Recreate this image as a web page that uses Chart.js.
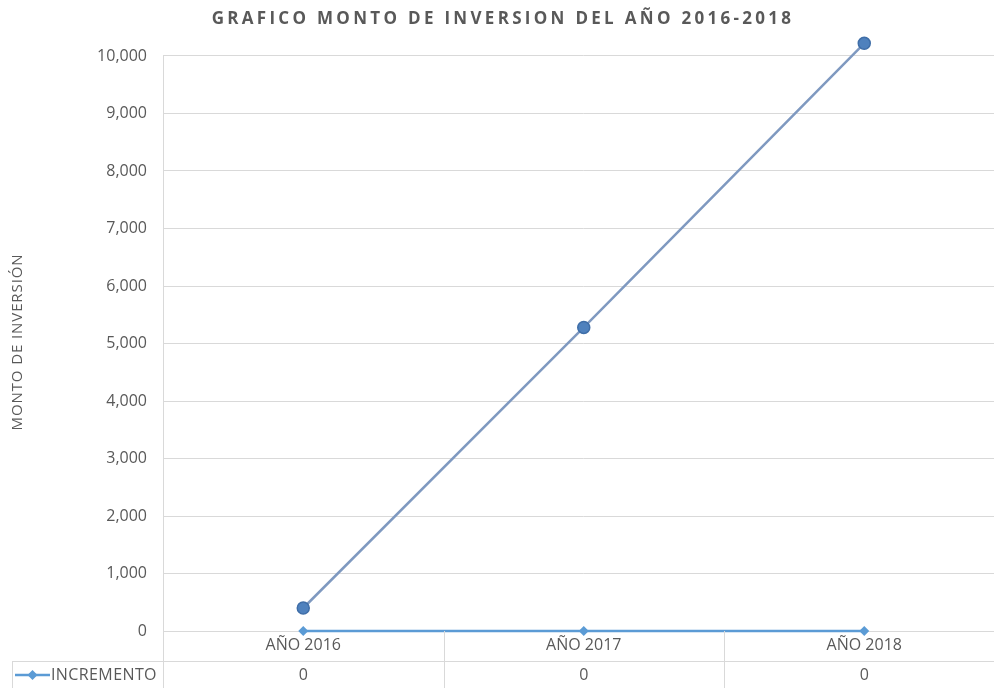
<!DOCTYPE html>
<html>
<head>
<meta charset="utf-8">
<script src="https://cdn.jsdelivr.net/npm/chart.js@4.4.0/dist/chart.umd.min.js"></script>
<style>
  html, body { margin: 0; padding: 0; background: #fff; overflow: hidden; }
  #wrap { width: 1012px; height: 688px; }
</style>
</head>
<body>
<div id="wrap"><canvas id="chart" width="1012" height="688"></canvas></div>
<script>
// datos del grafico
const years = ['AÑO 2016', 'AÑO 2017', 'AÑO 2018'];
const montoInversion = [400, 5280, 10220];
const incremento = [0, 0, 0];
const yTicks = [0, 1000, 2000, 3000, 4000, 5000, 6000, 7000, 8000, 9000, 10000];
const chartTitle = 'GRAFICO MONTO DE INVERSION DEL AÑO 2016-2018';
const yTitle = 'MONTO DE INVERSIÓN';

const textColor = '#595959';
const gridColor = '#d9d9d9';
const fontFam = "'Open Sans', 'Liberation Sans', sans-serif";

// titulos con espaciado de letras
const titles = {
  id: 'titles',
  afterDraw(chart) {
    const ctx = chart.ctx;
    ctx.save();
    ctx.fillStyle = textColor;
    ctx.textAlign = 'center';
    ctx.textBaseline = 'middle';
    ctx.font = 'bold 17px ' + fontFam;
    ctx.letterSpacing = '3.3px';
    ctx.fillText(chartTitle, 503, 19);
    ctx.font = '15px ' + fontFam;
    ctx.letterSpacing = '0.9px';
    ctx.translate(18, 342);
    ctx.rotate(-Math.PI / 2);
    ctx.fillText(yTitle, 0, 0);
    ctx.restore();
  }
};

// tabla de datos debajo del eje x (como en Excel)
const dataTable = {
  id: 'dataTable',
  beforeDatasetsDraw(chart) {
    // linea del eje y, desde el ultimo tick hacia abajo
    const ctx = chart.ctx;
    const y = chart.scales.y;
    const left = Math.round(chart.chartArea.left) + 0.5;
    ctx.save();
    ctx.strokeStyle = gridColor;
    ctx.lineWidth = 1;
    ctx.beginPath();
    ctx.moveTo(left, y.getPixelForValue(yTicks[yTicks.length - 1]));
    ctx.lineTo(left, chart.chartArea.bottom);
    ctx.stroke();
    ctx.restore();
  },
  afterDraw(chart) {
    const ctx = chart.ctx;
    const x = chart.scales.x;
    const area = chart.chartArea;
    const top = area.bottom;
    const rowY = 661;
    const bottom = chart.height;
    const step = x.getPixelForValue(1) - x.getPixelForValue(0);
    ctx.save();
    ctx.strokeStyle = gridColor;
    ctx.lineWidth = 1;
    // lineas verticales entre categorias
    for (let i = 0; i < years.length; i++) {
      const xp = Math.round(x.getPixelForValue(i) - step / 2) + 0.5;
      ctx.beginPath();
      ctx.moveTo(xp, top);
      ctx.lineTo(xp, bottom);
      ctx.stroke();
    }
    // linea horizontal de la fila
    ctx.beginPath();
    ctx.moveTo(12, rowY + 0.5);
    ctx.lineTo(chart.width, rowY + 0.5);
    ctx.stroke();
    ctx.beginPath();
    ctx.moveTo(12.5, rowY);
    ctx.lineTo(12.5, bottom);
    ctx.stroke();

    // leyenda de la serie
    const ly = 675;
    ctx.strokeStyle = '#5b9bd5';
    ctx.lineWidth = 2.5;
    ctx.beginPath();
    ctx.moveTo(15, ly);
    ctx.lineTo(50, ly);
    ctx.stroke();
    ctx.fillStyle = '#5b9bd5';
    ctx.beginPath();
    ctx.moveTo(32.5, ly - 5);
    ctx.lineTo(37.5, ly);
    ctx.lineTo(32.5, ly + 5);
    ctx.lineTo(27.5, ly);
    ctx.closePath();
    ctx.fill();

    ctx.fillStyle = textColor;
    ctx.font = '16px ' + fontFam;
    ctx.textBaseline = 'middle';
    ctx.textAlign = 'left';
    ctx.letterSpacing = '0.4px';
    ctx.fillText('INCREMENTO', 51, ly);
    ctx.letterSpacing = '0px';
    ctx.textAlign = 'center';
    incremento.forEach((v, i) => {
      ctx.fillText(String(v), x.getPixelForValue(i), ly);
    });
    ctx.restore();
  }
};

const config = {
  type: 'line',
  data: {
    labels: years,
    datasets: [
      {
        label: 'INCREMENTO',
        data: incremento,
        borderColor: '#5b9bd5',
        backgroundColor: '#5b9bd5',
        borderWidth: 2.5,
        pointStyle: 'rectRot',
        pointRadius: 5,
        pointBorderWidth: 0,
        clip: false,
        order: 2
      },
      {
        label: 'MONTO DE INVERSIÓN',
        data: montoInversion,
        borderColor: '#7f99c0',
        backgroundColor: '#4f81bd',
        pointBorderColor: '#3f6ea8',
        borderWidth: 2.5,
        pointRadius: 6,
        pointBorderWidth: 1.5,
        clip: false,
        order: 1
      }
    ]
  },
  options: {
    responsive: false,
    animation: false,
    // el area llega hasta 10,400 para que el ultimo punto no se corte
    layout: { padding: { left: 0, right: 1, top: 33, bottom: 0 } },
    plugins: {
      legend: { display: false },
      tooltip: { enabled: false },
      title: { display: false }
    },
    scales: {
      x: {
        offset: true,
        grid: { display: false, drawTicks: false, offset: true },
        border: { display: false },
        ticks: {
          color: textColor,
          font: { family: fontFam, size: 16 },
          padding: 5,
          maxRotation: 0
        },
        afterFit(scale) { scale.height = 57; }
      },
      y: {
        min: 0,
        max: 10400,
        afterBuildTicks(scale) { scale.ticks = yTicks.map(v => ({ value: v })); },
        grid: { color: gridColor, lineWidth: 1, drawTicks: false },
        border: { display: false },
        ticks: {
          color: textColor,
          font: { family: fontFam, size: 16 },
          padding: 16,
          callback: (v) => v.toLocaleString('en-US')
        },
        afterFit(scale) { scale.width = 163; }
      }
    }
  },
  plugins: [dataTable, titles]
};

new Chart(document.querySelector('#chart'), config);
</script>
</body>
</html>
